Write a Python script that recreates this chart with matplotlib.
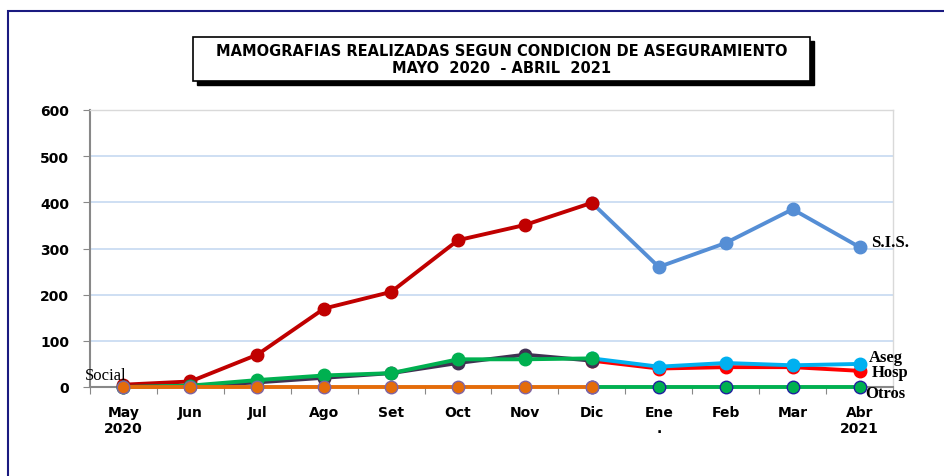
import matplotlib.pyplot as plt
from matplotlib.patches import Rectangle

# Data
months = ['May\n2020', 'Jun', 'Jul', 'Ago', 'Set', 'Oct', 'Nov', 'Dic', 'Ene\n.', 'Feb', 'Mar', 'Abr\n2021']
sis = [5, 12, 70, 170, 206, 318, 351, 399, 260, 312, 385, 303]
aseg = [0, 3, 15, 25, 30, 60, 60, 62, 44, 52, 47, 50]
hosp = [0, 2, 10, 20, 30, 52, 70, 57, 40, 43, 43, 35]
otros = [0, 0, 0, 0, 0, 0, 0, 0, 0, 0, 0, 0]
split = 7  # Dic: colours change from 2020 to 2021 series

x = list(range(len(months)))
x20 = x[:split + 1]
x21 = x[split:]

fig = plt.figure(figsize=(9.45, 4.77), dpi=100)
ax = fig.add_axes([90 / 945, 89 / 477, 803 / 945, 277 / 477])

lw = 2.8
ms = 9
kw = dict(lw=lw, marker='o', ms=ms, clip_on=False)

# 2020 part
ax.plot(x20, sis[:split + 1], color='#C00000', zorder=4, **kw)
ax.plot(x20, hosp[:split + 1], color='#403152', zorder=4, **kw)
ax.plot(x20, aseg[:split + 1], color='#00B050', zorder=5, **kw)
ax.plot(x20, otros[:split + 1], color='#E46C0A', mec='#8064A2', mew=1, zorder=6, **kw)

# 2021 part
ax.plot(x21, sis[split:], color='#558ED5', zorder=3, **kw)
ax.plot(x21, hosp[split:], color='#FF0000', zorder=3, **kw)
ax.plot(x21, aseg[split:], color='#00B0F0', zorder=3.5, **kw)
ax.plot(x21, otros[split:], color='#00B050', mec='#1F1FA0', mew=1, zorder=3, **kw)

# series labels
lab = dict(family='Liberation Serif', fontweight='bold', fontsize=12, va='center', zorder=7)
ax.annotate('S.I.S.', (x[-1], sis[-1]), xytext=(8, 4), textcoords='offset points', **lab)
ax.annotate('Aseg', (x[-1], aseg[-1]), xytext=(7, 5), textcoords='offset points', **lab)
ax.annotate('Hosp', (x[-1], hosp[-1]), xytext=(9, -1), textcoords='offset points', **lab)
ax.annotate('Otros', (x[-1], otros[-1]), xytext=(4, -4), textcoords='offset points', **lab)
ax.annotate('Social', (x[0], 26), xytext=(2, 0), textcoords='offset points', ha='right',
            family='Liberation Serif', fontsize=12, va='center', zorder=7)

ax.set_xlim(-0.5, len(months) - 0.5)
ax.set_ylim(0, 600)
ax.set_yticks(range(0, 601, 100))
ax.set_xticks([i - 0.5 for i in range(len(months) + 1)])
ax.set_xticklabels([])
ax.set_xticks(x, minor=True)
ax.set_xticklabels(months, minor=True, fontweight='heavy', fontsize=10)
ax.tick_params(axis='x', which='minor', length=0, pad=13)
ax.tick_params(axis='x', which='major', length=5, color='#888888', direction='out')
ax.tick_params(axis='y', length=5, color='#888888', pad=10)
for t in ax.get_yticklabels():
    t.set_fontweight('heavy')
    t.set_fontsize(10)

ax.grid(axis='y', color='#C6D9F1', lw=1.2)
ax.set_axisbelow(True)
for s in ['left', 'bottom']:
    ax.spines[s].set_color('#888888')
    ax.spines[s].set_linewidth(1.5)
for s in ['top', 'right']:
    ax.spines[s].set_color('#D9D9D9')
    ax.spines[s].set_linewidth(1)
for s in ax.spines.values():
    s.set_zorder(1)

# title box with shadow
bx, by, bw, bh = 193 / 945, (477 - 82) / 477, 617 / 945, 44 / 477
fig.patches.append(Rectangle((bx + 4 / 945, by - 4 / 477), bw, bh, transform=fig.transFigure,
                             facecolor='black', edgecolor='black', zorder=1))
fig.patches.append(Rectangle((bx, by), bw, bh, transform=fig.transFigure,
                             facecolor='white', edgecolor='black', lw=1.2, zorder=2))
fig.text(bx + bw / 2, by + bh / 2,
         'MAMOGRAFIAS REALIZADAS SEGUN CONDICION DE ASEGURAMIENTO\nMAYO  2020  - ABRIL  2021',
         ha='center', va='center', fontweight='bold', fontsize=10.5, linespacing=1.15, zorder=3)

# outer frame
fig.patches.append(Rectangle((8 / 945, -0.1), 2, (477 - 12) / 477 + 0.1, transform=fig.transFigure,
                             facecolor='none', edgecolor='#1A1A80', lw=1.5, zorder=0))

fig.savefig('out.png', dpi=100)
